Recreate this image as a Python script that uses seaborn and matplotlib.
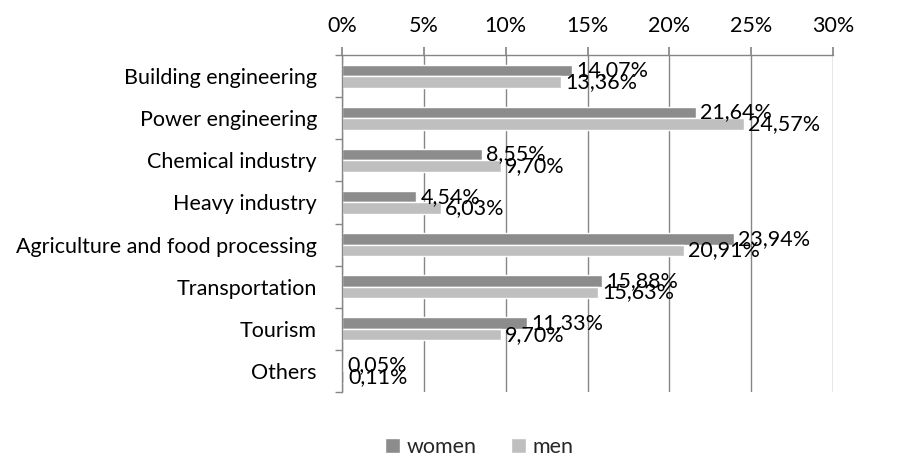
import matplotlib
matplotlib.use("Agg")
import matplotlib.pyplot as plt
import seaborn as sns
import pandas as pd

categories = ["Building engineering", "Power engineering", "Chemical industry",
              "Heavy industry", "Agriculture and food processing", "Transportation",
              "Tourism", "Others"]
women = [14.07, 21.64, 8.55, 4.54, 23.94, 15.88, 11.33, 0.05]
men = [13.36, 24.57, 9.70, 6.03, 20.91, 15.63, 9.70, 0.11]
series = ["women", "men"]
xticks = [0, 5, 10, 15, 20, 25, 30]

df = pd.DataFrame({
    "sector": categories * 2,
    "share": women + men,
    "sex": ["women"] * len(categories) + ["men"] * len(categories),
})

sns.set_theme(style="white")
plt.rcParams["font.family"] = ["Lato", "DejaVu Sans"]

fs = 15.5
grid_col = "#868686"
fig = plt.figure(figsize=(9.21, 4.57), dpi=100)
ax = fig.add_axes([0.3713, 0.1422, 0.9045 - 0.3713, 0.8796 - 0.1422])

sns.barplot(data=df, y="sector", x="share", hue="sex", order=categories,
            hue_order=series, palette=["#8c8c8c", "#bfbfbf"], orient="h",
            width=0.55, gap=0, saturation=1, ax=ax, legend=True)

for cont, vals in zip(ax.containers, [women, men]):
    ax.bar_label(cont, labels=[f"{v:.2f}%".replace(".", ",") for v in vals],
                 padding=3, fontsize=fs, color="#000000")

ax.set_xlim(0, 30)
ax.set_ylim(len(categories) - 0.5, -0.5)
ax.set_xticks(xticks)
ax.set_xticklabels([f"{t}%" for t in xticks])
ax.xaxis.tick_top()
ax.set_xlabel("")
ax.set_ylabel("")
ax.grid(axis="x", color=grid_col, linewidth=1)
ax.set_axisbelow(True)

for s in ["right", "bottom"]:
    ax.spines[s].set_visible(False)
for s in ["top", "left"]:
    ax.spines[s].set_color(grid_col)
    ax.spines[s].set_linewidth(1)

ax.tick_params(axis="x", which="major", top=True, direction="out", length=6,
               color=grid_col, labelsize=fs, pad=8, labelcolor="#000000")
ax.tick_params(axis="y", which="major", left=False, labelsize=fs, pad=12,
               labelcolor="#000000")
ax.set_yticks([i + 0.5 for i in range(-1, len(categories))], minor=True)
ax.tick_params(axis="y", which="minor", left=True, direction="out", length=5,
               color=grid_col)

handles, labels = ax.get_legend_handles_labels()
ax.get_legend().remove()
fig.legend(handles, labels, loc="center", bbox_to_anchor=(0.52, 0.022),
           ncol=2, frameon=False, fontsize=fs,
           handlelength=0.7, handleheight=0.7, handletextpad=0.3, columnspacing=1.6,
           borderaxespad=0)

fig.savefig("out.png", dpi=100)
